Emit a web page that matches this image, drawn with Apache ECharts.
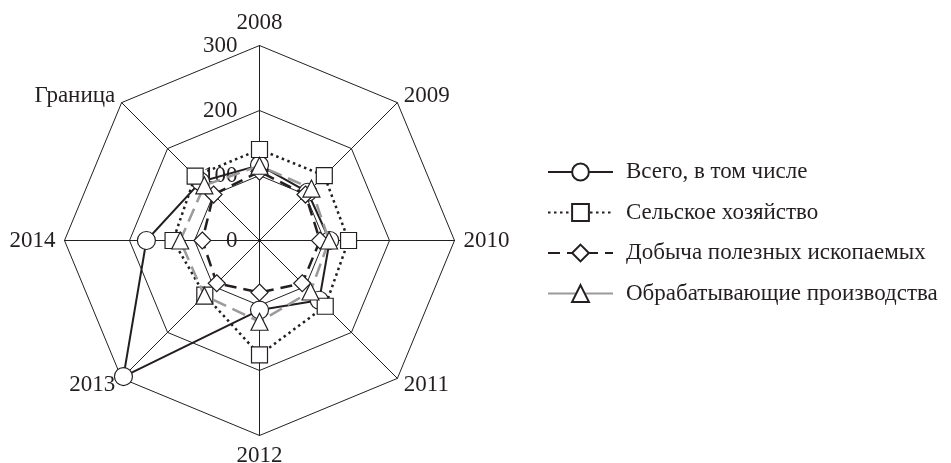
<!DOCTYPE html>
<html>
<head>
<meta charset="utf-8">
<script src="https://cdn.jsdelivr.net/npm/echarts@6/dist/echarts.min.js"></script>
<style>
  html, body { margin: 0; padding: 0; background: #fff; }
  #chart { width: 951px; height: 463px; }
</style>
</head>
<body>
<div id="chart"></div>
<script>
// axes go counter-clockwise from the top
var categories = ['2008', 'Граница', '2014', '2013', '2012', '2011', '2010', '2009'];
var seriesNames = ['Всего, в том числе', 'Сельское хозяйство', 'Добыча полезных ископаемых', 'Обрабатывающие производства'];
var totalValues = [116, 128, 174, 296, 107, 130, 108, 105];
var agroValues = [140, 140, 133, 119, 176, 143, 137, 141];
var miningValues = [106, 100, 88, 93, 80, 93, 93, 100];
var manufValues = [115, 120, 122, 120, 125, 111, 107, 113];
var axisMin = 0;
var axisMax = 300;

var ink = '#231f20';
var font = 'Liberation Serif';

var styles = [
  { symbol: 'circle', size: 18, line: { color: ink, width: 2, type: 'solid' } },
  { symbol: 'rect', size: 16, line: { color: ink, width: 2.5, type: [2.5, 3.5] } },
  { symbol: 'diamond', size: 17, line: { color: ink, width: 2.5, type: [12, 7] } },
  { symbol: 'triangle', size: 17, line: { color: '#9a9a9a', width: 2.5, type: [14, 7] } }
];
var values = [totalValues, agroValues, miningValues, manufValues];

var indicator = categories.map(function (c, i) {
  var ind = { name: c, min: axisMin, max: axisMax };
  if (i === 0) {
    ind.axisLabel = { show: true };
  }
  return ind;
});

var series = [];
// empty line series only give the legend its line + marker icons
seriesNames.forEach(function (n, i) {
  series.push({
    name: n,
    type: 'line',
    data: [],
    symbol: styles[i].symbol,
    lineStyle: i === 3 ? { color: '#9a9a9a', width: 2.5, type: 'solid' } : styles[i].line,
    itemStyle: { color: '#fff', borderColor: ink, borderWidth: 1.2 }
  });
});
seriesNames.forEach(function (n, i) {
  series.push({
    name: n,
    type: 'radar',
    z: 2 + i,
    symbol: styles[i].symbol,
    symbolSize: styles[i].size,
    lineStyle: styles[i].line,
    itemStyle: { color: '#fff', borderColor: ink, borderWidth: 1.2 },
    data: [{ name: n, value: values[i] }]
  });
});

var chart = echarts.init(document.getElementById('chart'));
chart.setOption({
  animation: false,
  grid: { show: false, left: 0, top: 0, width: 1, height: 1 },
  xAxis: { show: false, type: 'category', data: [] },
  yAxis: { show: false, type: 'value' },
  legend: {
    orient: 'vertical',
    left: 547,
    top: 160.5,
    padding: 0,
    itemWidth: 65,
    itemHeight: 21,
    itemGap: 17.5,
    data: seriesNames,
    textStyle: { fontFamily: font, fontSize: 23, color: ink, padding: [0, 0, 0, 8] }
  },
  radar: {
    center: [259.5, 240.5],
    radius: 195,
    shape: 'polygon',
    splitNumber: 3,
    indicator: indicator,
    axisName: { color: ink, fontFamily: font, fontSize: 23 },
    nameGap: 9,
    axisLine: { lineStyle: { color: ink, width: 1 } },
    splitLine: { lineStyle: { color: ink, width: 1 } },
    splitArea: { show: false },
    axisTick: { show: false },
    axisLabel: { show: false, color: ink, fontFamily: font, fontSize: 23, margin: 22 }
  },
  series: series
});
</script>
</body>
</html>
